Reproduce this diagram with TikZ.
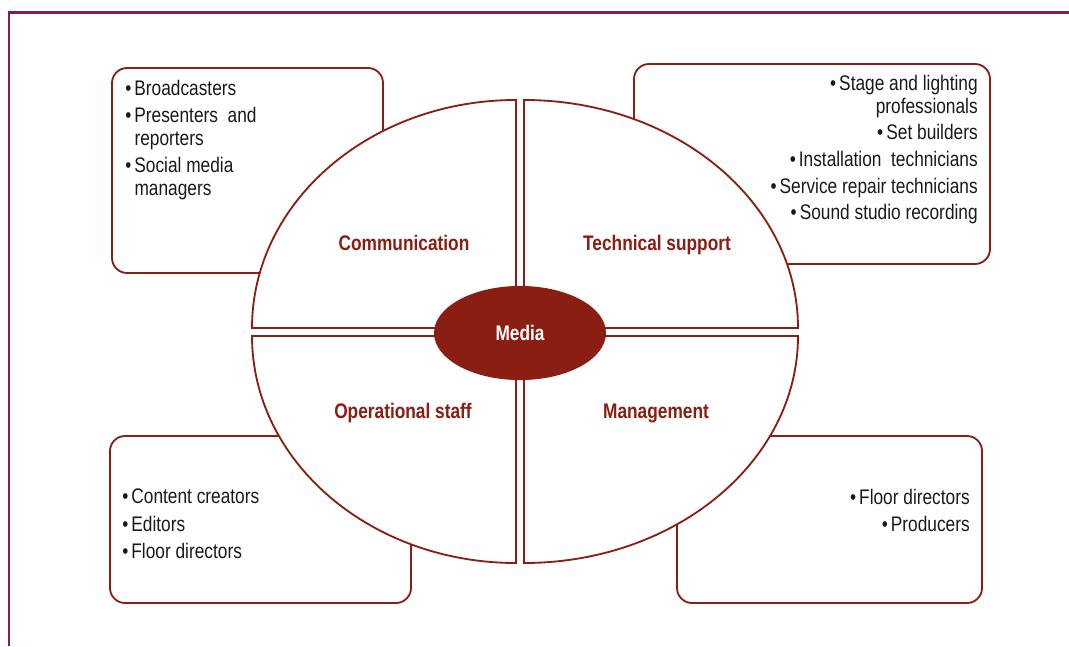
\documentclass[tikz,border=0pt]{standalone}
\usepackage{fontspec}
\setmainfont{Liberation Sans}[FakeStretch=0.82]
\usepackage{xcolor}
\usetikzlibrary{shapes.geometric}
\definecolor{MediaRed}{HTML}{8A1E12}
\definecolor{FrameRed}{HTML}{7E2050}
\newcommand{\itembul}{\textbullet\hspace{2.2pt}}
\newcommand{\itemcont}{\hspace*{6.6pt}}

\begin{document}
\begin{tikzpicture}[x=0.025cm, y=0.025cm,
    listbox/.style={draw=MediaRed, line width=1.3pt, rounded corners=10.7pt},
    quarter/.style={draw=MediaRed, line width=1.3pt, fill=white},
    listtext/.style={inner sep=0pt, text=black!90, font=\fontsize{15}{16.4}\selectfont},
    sector/.style={inner sep=0pt, text=MediaRed, font=\fontsize{15}{16.4}\selectfont\bfseries}]
    \useasboundingbox (0,0) rectangle (1069,646);

    % frame
    \draw[FrameRed, line width=1.5pt] (9,0) -- (9,633.5) -- (1069,633.5);

    % boxes behind the circle
    \draw[listbox] (112,373) rectangle (383,578);
    \draw[listbox] (634,382) rectangle (990,582);
    \draw[listbox] (110,43) rectangle (411,210);
    \draw[listbox] (677,43) rectangle (982,210);

    % four quarters
    \draw[quarter] (516,318) -- ++(-264,0) arc[start angle=180, end angle=90, x radius=264, y radius=228] -- cycle;
    \draw[quarter] (524,318) -- ++(0,228) arc[start angle=90, end angle=0, x radius=274, y radius=228] -- cycle;
    \draw[quarter] (516,310) -- ++(-264,0) arc[start angle=180, end angle=270, x radius=264, y radius=227] -- cycle;
    \draw[quarter] (524,310) -- ++(0,-227) arc[start angle=270, end angle=360, x radius=274, y radius=227] -- cycle;

    \node[ellipse, fill=MediaRed, minimum width=122.3pt, minimum height=66.9pt, inner sep=0pt,
          text=white, font=\fontsize{15}{16.4}\selectfont\bfseries] (media) at (520,313) {Media};

    \node[sector] (comm) at (404,403) {Communication};
    \node[sector] (tech) at (657,401) {Technical support};
    \node[sector] (oper) at (403,233) {Operational staff};
    \node[sector] (mgmt) at (656,233) {Management};

    % lists
    \node[listtext, anchor=north west, align=left] (commlist) at (125,566.5)
        {\itembul Broadcasters\\[2.8pt]
         \itembul Presenters\ \ and\\
         \itemcont reporters\\[2.8pt]
         \itembul Social media\\
         \itemcont managers};
    \node[listtext, anchor=north east, align=right] (techlist) at (978,571.5)
        {\itembul Stage and lighting\\
         professionals\\[2.6pt]
         \itembul Set builders\\[2.6pt]
         \itembul Installation\ \ technicians\\[2.6pt]
         \itembul Service repair technicians\\[2.6pt]
         \itembul Sound studio recording};
    \node[listtext, anchor=north east, align=right] (mgmtlist) at (970,157.5)
        {\itembul Floor directors\\[3.2pt]
         \itembul Producers};
    \node[listtext, anchor=north west, align=left] (operlist) at (122,157.5)
        {\itembul Content creators\\[3.2pt]
         \itembul Editors\\[3.2pt]
         \itembul Floor directors};
\end{tikzpicture}
\end{document}
